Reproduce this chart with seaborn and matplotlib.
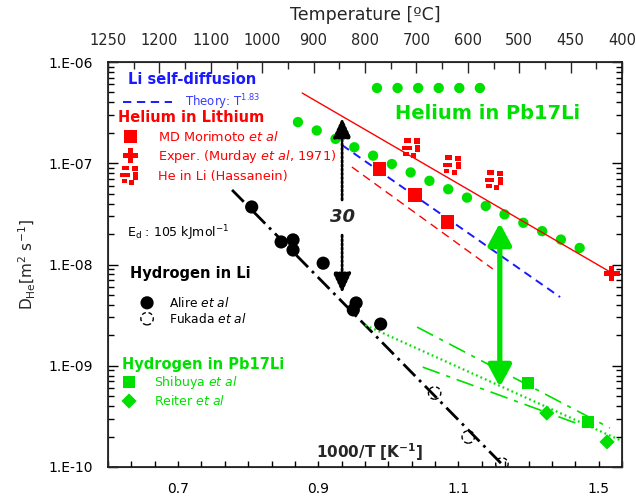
import numpy as np
import matplotlib
matplotlib.use("Agg")
import matplotlib.pyplot as plt
import seaborn as sns
from matplotlib.path import Path
from matplotlib.transforms import Affine2D
from matplotlib.legend import Legend
from matplotlib.ticker import FixedLocator, FuncFormatter, LogLocator, NullFormatter, MultipleLocator

# values: x = 1000/T [1/K], y = D [m2/s]
he_pb17li_x = [0.871, 1.299]
he_pb17li_y = [2.55e-7, 1.21e-8]

he_li_fit_x = [0.877, 1.319]
he_li_fit_y = [4.94e-7, 8.24e-9]

murday_x = [1.319]
murday_y = [8.2e-9]

hassanein_x = [1.034, 1.092, 1.152]
hassanein_y = [1.42e-7, 9.6e-8, 6.8e-8]

morimoto_x = [0.987, 1.038, 1.084]
morimoto_y = [8.77e-8, 4.85e-8, 2.63e-8]
morimoto_fit_x = [0.948, 1.149]
morimoto_fit_y = [9.18e-8, 9.04e-9]

theory_x = [0.934, 1.245]
theory_y = [1.51e-7, 4.77e-9]

h_li_fit_x = [0.777, 1.166]
h_li_fit_y = [5.45e-8, 1.0e-10]

alire_x = [0.805, 0.847, 0.864, 0.864, 0.907, 0.954, 0.950, 0.989]
alire_y = [3.70e-8, 1.67e-8, 1.75e-8, 1.39e-8, 1.03e-8, 4.17e-9, 3.56e-9, 2.58e-9]

fukada_x = [1.066, 1.114, 1.162]
fukada_y = [5.38e-10, 1.98e-10, 1.07e-10]

h_pb_fit_x = [0.967, 1.33]
h_pb_fit_y = [2.52e-9, 1.85e-10]
shibuya_fit_x = [1.041, 1.316]
shibuya_fit_y = [2.41e-9, 2.43e-10]
reiter_fit_x = [1.049, 1.283]
reiter_fit_y = [9.7e-10, 2.48e-10]

shibuya_x = [1.199, 1.285]
shibuya_y = [6.76e-10, 2.78e-10]
reiter_x = [1.226, 1.312]
reiter_y = [3.41e-10, 1.77e-10]

# "factor 30" arrows and the green gap arrow
ratio_x = 0.934
ratio_up_y = [4.34e-8, 2.80e-7]
ratio_down_y = [1.95e-8, 5.24e-9]
ratio_text_y = 2.94e-8
gap_x = 1.159
gap_y = [2.57e-8, 6.17e-10]

x_ticks = [0.7, 0.9, 1.1, 1.3]
x_ticklabels = ["0.7", "0.9", "1.1", "1.5"]
y_ticks = [1e-10, 1e-9, 1e-8, 1e-7, 1e-6]
temp_labels = ["1250", "1200", "1100", "1000", "900", "800", "700", "600", "500", "450", "400"]

GREEN = "#00e000"
RED = "#ff0000"
BLUE = "#1a1aff"

sns.set_style("ticks")
plt.rcParams["font.family"] = ["DejaVu Sans"]
plt.rcParams["lines.scale_dashes"] = False
plt.rcParams["mathtext.default"] = "regular"

fig = plt.figure(figsize=(6.36, 4.97), dpi=100)
ax = fig.add_axes([108 / 636, 30 / 497, 514 / 636, 405 / 497])
ax.set_yscale("log")


def cluster_marker():
    blobs = [(-0.35, 0.55, 0.5, 0.35), (0.35, 0.5, 0.45, 0.4), (-0.4, 0.0, 0.7, 0.3),
             (0.4, -0.05, 0.35, 0.55), (-0.45, -0.45, 0.4, 0.3), (0.1, -0.55, 0.35, 0.35)]
    parts = [Path.unit_rectangle().transformed(
        Affine2D().scale(w, h).translate(cx - w / 2, cy - h / 2)) for cx, cy, w, h in blobs]
    return Path.make_compound_path(*parts)


# lines
sns.lineplot(x=he_pb17li_x, y=he_pb17li_y, ax=ax, color=GREEN, linewidth=7.5,
             linestyle=(0, (0.01, 14.8)), dash_capstyle="round")
dots_line = ax.lines[-1]
sns.lineplot(x=he_li_fit_x, y=he_li_fit_y, ax=ax, color=RED, linewidth=1.0)
sns.lineplot(x=theory_x, y=theory_y, ax=ax, color=BLUE, linewidth=1.4, linestyle=(0, (6, 4)))
theory_line = ax.lines[-1]
sns.lineplot(x=morimoto_fit_x, y=morimoto_fit_y, ax=ax, color=RED, linewidth=1.0,
             linestyle=(0, (6, 4)))
sns.lineplot(x=h_li_fit_x, y=h_li_fit_y, ax=ax, color="black", linewidth=2.0,
             linestyle=(0, (12, 4, 2, 4)))
sns.lineplot(x=h_pb_fit_x, y=h_pb_fit_y, ax=ax, color=GREEN, linewidth=1.6,
             linestyle=(0, (1.3, 2.2)))
sns.lineplot(x=shibuya_fit_x, y=shibuya_fit_y, ax=ax, color=GREEN, linewidth=1.2,
             linestyle=(0, (13, 5, 3, 5)))
sns.lineplot(x=reiter_fit_x, y=reiter_fit_y, ax=ax, color=GREEN, linewidth=1.2,
             linestyle=(0, (13, 5, 3, 5)))

# markers
sns.scatterplot(x=morimoto_x, y=morimoto_y, ax=ax, marker="s", s=90, color=RED, edgecolor="none", zorder=3)
h_morimoto = ax.collections[-1]
sns.scatterplot(x=murday_x, y=murday_y, ax=ax, marker="P", s=120, color=RED, edgecolor="none", zorder=3)
h_murday = ax.collections[-1]
sns.scatterplot(x=hassanein_x, y=hassanein_y, ax=ax, marker=cluster_marker(), s=210, color=RED,
                edgecolor="none", zorder=3)
h_hassanein = ax.collections[-1]
sns.scatterplot(x=alire_x, y=alire_y, ax=ax, marker="o", s=90, color="black", edgecolor="none", zorder=3)
h_alire = ax.collections[-1]
sns.scatterplot(x=fukada_x, y=fukada_y, ax=ax, marker="o", s=80, color="black", facecolor="none",
                edgecolor="black", linewidth=1.0, linestyle=(0, (3, 2)), zorder=3)
h_fukada = ax.collections[-1]
sns.scatterplot(x=shibuya_x, y=shibuya_y, ax=ax, marker="s", s=75, color=GREEN, edgecolor="none", zorder=3)
h_shibuya = ax.collections[-1]
sns.scatterplot(x=reiter_x, y=reiter_y, ax=ax, marker="D", s=60, color=GREEN, edgecolor="none", zorder=3)
h_reiter = ax.collections[-1]

# arrows
black_arrow = dict(arrowstyle="-|>,head_length=1.2,head_width=0.55", color="black", lw=2.0,
                   linestyle=(0, (1.5, 1.5)), mutation_scale=10, shrinkA=0, shrinkB=0)
ax.annotate("", xy=(ratio_x, ratio_up_y[1]), xytext=(ratio_x, ratio_up_y[0]), arrowprops=black_arrow)
ax.annotate("", xy=(ratio_x, ratio_down_y[1]), xytext=(ratio_x, ratio_down_y[0]), arrowprops=black_arrow)
ax.text(ratio_x, ratio_text_y, "30", ha="center", va="center", fontsize=13,
        fontweight="bold", fontstyle="italic")
ax.annotate("", xy=(gap_x, gap_y[1]), xytext=(gap_x, gap_y[0]),
            arrowprops=dict(arrowstyle="<|-|>,head_length=1.3,head_width=0.7", color=GREEN,
                            lw=3.8, mutation_scale=10, shrinkA=0, shrinkB=0))

# axes
ax.set_xlim(0.6, 0.6 + 22 / 30)
ax.set_ylim(1e-10, 1e-6)
ax.xaxis.set_major_locator(FixedLocator(x_ticks))
ax.set_xticklabels(x_ticklabels)
ax.xaxis.set_minor_locator(MultipleLocator(1 / 30))
ax.yaxis.set_major_locator(FixedLocator(y_ticks))
ax.yaxis.set_major_formatter(FuncFormatter(lambda v, p: f"1.E{int(round(np.log10(v))):03d}"))
ax.yaxis.set_minor_locator(LogLocator(base=10, subs=np.arange(2, 10)))
ax.yaxis.set_minor_formatter(NullFormatter())
ax.tick_params(which="both", direction="in", right=True, top=False, width=1, colors="black")
ax.tick_params(axis="y", which="major", length=7, labelsize=10, pad=11)
ax.tick_params(axis="y", which="minor", length=4)
ax.tick_params(axis="x", which="both", length=4, pad=11, labelsize=10)
for sp in ax.spines.values():
    sp.set_linewidth(1.1)
    sp.set_color("black")

ax.set_ylabel(r"D$_{He}$[m$^2$ s$^{-1}$]", fontsize=11)
ax.yaxis.set_label_coords(-0.137, 0.5)
ax.set_xlabel(r"1000/T [K$^{-1}$]", fontsize=11, fontweight="bold")
ax.xaxis.set_label_coords(0.508, 0.064)

ax2 = ax.twiny()
ax2.set_xlim(ax.get_xlim())
ax2.set_xticks(np.linspace(0.6, 0.6 + 22 / 30, 11))
ax2.set_xticklabels(temp_labels)
ax2.set_xticks(np.linspace(0.6, 0.6 + 22 / 30, 21), minor=True)
ax2.tick_params(which="both", direction="in", labelsize=10.5, width=1, pad=10)
ax2.tick_params(which="major", length=8)
ax2.tick_params(which="minor", length=5)
ax2.set_xlabel("Temperature [ºC]", fontsize=12.5)
ax2.xaxis.set_label_coords(0.5, 1.103)


# keys
def add_key(handles, labels, color, anchor, size, hlen, pad, spacing, loc="upper left"):
    leg = Legend(ax, handles, labels, loc=loc, bbox_to_anchor=anchor, bbox_transform=ax.transAxes,
                 frameon=False, borderpad=0, borderaxespad=0, handlelength=hlen,
                 handletextpad=pad, labelspacing=spacing, prop={"size": size},
                 scatterpoints=1, scatteryoffsets=[0.5])
    for t in leg.get_texts():
        t.set_color(color)
    ax.add_artist(leg)
    return leg


head = dict(transform=ax.transAxes, ha="left", va="center", fontweight="bold", fontsize=10.5)
ax.text(0.0389, 0.958, "Li self-diffusion", color=BLUE, **head)
ax.text(0.0195, 0.862, "Helium in Lithium", color=RED, **head)
ax.text(0.0428, 0.479, "Hydrogen in Li", color="black", **head)
ax.text(0.0272, 0.254, "Hydrogen in Pb17Li", color=GREEN, **head)
ax.text(0.558, 0.874, "Helium in Pb17Li", color=GREEN, transform=ax.transAxes, ha="left",
        va="center", fontweight="bold", fontsize=14)
ax.text(0.037, 0.578, r"E$_d$ : 105 kJmol$^{-1}$", color="black", transform=ax.transAxes,
        ha="left", va="center", fontsize=9)

add_key([theory_line], [r"Theory: T$^{1.83}$"], "#3a3aff", (0.0292, 0.926), 8.5, 4.15, 1.1, 0.4)
add_key([h_morimoto, h_murday, h_hassanein],
        [r"MD Morimoto $\mathit{et\ al}$", r"Exper. (Murday $\mathit{et\ al}$, 1971)",
         "He in Li (Hassanein)"], RED, (0.0253, 0.833), 9.3, 1.45, 1.45, 0.36)
add_key([h_alire, h_fukada], [r"Alire $\mathit{et\ al}$", r"Fukada $\mathit{et\ al}$"],
        "black", (0.0564, 0.422), 8.8, 1.65, 0.95, 0.15)
add_key([h_shibuya, h_reiter], [r"Shibuya $\mathit{et\ al}$", r"Reiter $\mathit{et\ al}$"],
        GREEN, (0.0233, 0.229), 9, 1.45, 1.3, 0.25)
add_key([dots_line], [""], GREEN, (0.523, 0.933), 10, 7.55, 0.0, 0.3, loc="center left")

fig.savefig("out.png", dpi=100, facecolor="white")
